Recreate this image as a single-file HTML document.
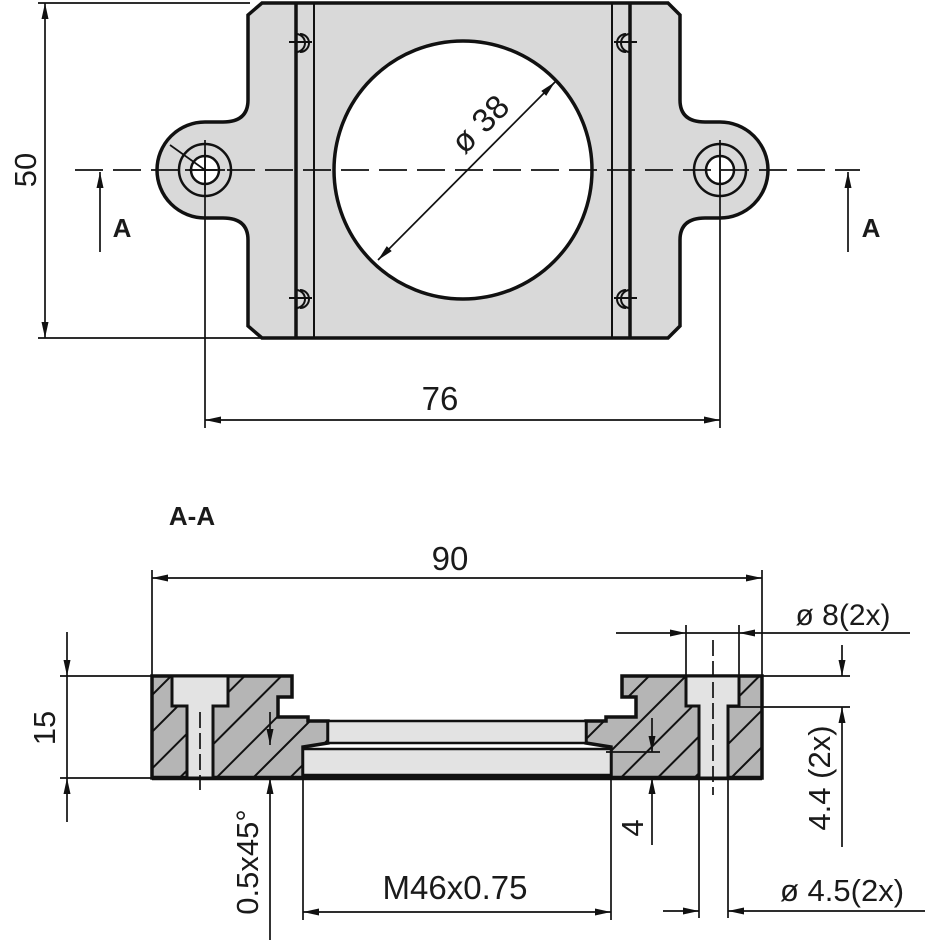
<!DOCTYPE html>
<html><head><meta charset="utf-8"><style>
html,body{margin:0;padding:0;background:#fff}
svg{display:block}
text{font-family:"Liberation Sans",sans-serif;fill:#1a1a1a}
</style></head><body>
<svg width="925" height="940" viewBox="0 0 925 940" xmlns="http://www.w3.org/2000/svg">
<defs>
<marker id="ar" viewBox="0 0 16 7" refX="16" refY="3.5" markerWidth="16" markerHeight="7" orient="auto-start-reverse" markerUnits="userSpaceOnUse">
<path d="M0,0 L16,3.5 L0,7 z" fill="#111"/></marker>
<pattern id="hat" width="26" height="26" patternUnits="userSpaceOnUse" patternTransform="rotate(45)">
<rect width="26" height="26" fill="#b5b5b5"/><line x1="0" y1="0" x2="0" y2="26" stroke="#111" stroke-width="4"/></pattern>
</defs>

<!-- TOP VIEW -->
<path d="M262,3 L668,3 L680,15 L680,100 Q680,122 705,122 L720,122 A48,48 0 0 1 720,218 L705,218 Q680,218 680,240 L680,326 L668,338 L262,338 L248,326 L248,240 Q248,218 223,218 L205,218 A48,48 0 0 1 205,122 L223,122 Q248,122 248,100 L248,15 Z" fill="#d9d9d9" stroke="#111" stroke-width="3.5"/>
<g stroke="#111" fill="none">
<line x1="296" y1="3" x2="296" y2="338" stroke-width="3.5"/>
<line x1="314" y1="3" x2="314" y2="338" stroke-width="2"/>
<line x1="612" y1="3" x2="612" y2="338" stroke-width="2"/>
<line x1="630" y1="3" x2="630" y2="338" stroke-width="3.5"/>
</g>
<circle cx="463" cy="170" r="129" fill="#fff" stroke="#111" stroke-width="3.5"/>
<g stroke="#111" stroke-width="2.5" fill="none">
<circle cx="205" cy="170" r="26"/><circle cx="205" cy="170" r="14" fill="#fff"/>
<circle cx="720" cy="170" r="26"/><circle cx="720" cy="170" r="14" fill="#fff"/>
</g>
<g stroke="#111" stroke-width="2" fill="none">
<path d="M296,34 a9,9 0 0 1 0,18 M300,34 a8,8 0 0 1 0,18"/><line x1="289" y1="42" x2="312" y2="42"/>
<path d="M296,290 a9,9 0 0 1 0,18 M300,290 a8,8 0 0 1 0,18"/><line x1="289" y1="298" x2="312" y2="298"/>
<path d="M630,34 a9,9 0 0 0 0,18 M626,34 a8,8 0 0 0 0,18"/><line x1="614" y1="42" x2="637" y2="42"/>
<path d="M630,290 a9,9 0 0 0 0,18 M626,290 a8,8 0 0 0 0,18"/><line x1="614" y1="298" x2="637" y2="298"/>
</g>
<g stroke="#111" stroke-width="1.7" fill="none">
<line x1="75" y1="170" x2="860" y2="170" stroke-dasharray="28,10"/>
<line x1="170" y1="145" x2="205" y2="170"/>
<line x1="378" y1="260" x2="555" y2="82" marker-start="url(#ar)" marker-end="url(#ar)"/>
<line x1="45" y1="3" x2="45" y2="338" marker-start="url(#ar)" marker-end="url(#ar)"/>
<line x1="38" y1="3" x2="250" y2="3"/><line x1="38" y1="338" x2="262" y2="338"/>
<line x1="205" y1="140" x2="205" y2="428"/><line x1="720" y1="140" x2="720" y2="428"/>
<line x1="205" y1="420" x2="720" y2="420" marker-start="url(#ar)" marker-end="url(#ar)"/>
<line x1="100" y1="252" x2="100" y2="172" marker-end="url(#ar)"/>
<line x1="848" y1="252" x2="848" y2="172" marker-end="url(#ar)"/>
<line x1="205" y1="150" x2="205" y2="190"/><line x1="185" y1="170" x2="225" y2="170"/>
<line x1="720" y1="150" x2="720" y2="190"/>
</g>
<text x="36" y="170" font-size="31" text-anchor="middle" transform="rotate(-90 36 170)">50</text>
<text x="122" y="237" font-size="26" font-weight="bold" text-anchor="middle">A</text>
<text x="871" y="237" font-size="26" font-weight="bold" text-anchor="middle">A</text>
<text x="440" y="410" font-size="33" text-anchor="middle">76</text>
<text x="488" y="132" font-size="33" text-anchor="middle" transform="rotate(-45 488 132)">ø 38</text>

<!-- SECTION A-A -->
<text x="192" y="525" font-size="26" font-weight="bold" text-anchor="middle">A-A</text>
<text x="450" y="570" font-size="33" text-anchor="middle">90</text>
<path d="M152,676 L292,676 L292,697 L278,697 L278,717 L308,717 L308,721 L328,721 L328,743 L303,747 L303,778 L152,778 Z" fill="url(#hat)" stroke="#111" stroke-width="3.5"/>
<path d="M762,676 L622,676 L622,697 L636,697 L636,717 L606,717 L606,721 L586,721 L586,743 L611,747 L611,778 L762,778 Z" fill="url(#hat)" stroke="#111" stroke-width="3.5"/>
<rect x="328" y="721" width="258" height="22" fill="#e3e3e3" stroke="#111" stroke-width="2.5"/>
<rect x="303" y="749" width="308" height="26" fill="#e3e3e3" stroke="#111" stroke-width="2.5"/>
<line x1="152" y1="778" x2="762" y2="778" stroke="#111" stroke-width="4.5"/>
<g fill="#e3e3e3" stroke="#111" stroke-width="3">
<path d="M172,676 L228,676 L228,706 L213,706 L213,778 L187,778 L187,706 L172,706 Z"/>
<path d="M686,676 L739,676 L739,706 L728,706 L728,778 L699,778 L699,706 L686,706 Z"/>
</g>
<g stroke="#111" stroke-width="1.7" fill="none">
<line x1="200" y1="712" x2="200" y2="790" stroke-dasharray="16,5"/>
<line x1="713" y1="640" x2="713" y2="795" stroke-dasharray="16,5"/>
<line x1="152" y1="570" x2="152" y2="676"/><line x1="762" y1="570" x2="762" y2="676"/>
<line x1="152" y1="578" x2="762" y2="578" marker-start="url(#ar)" marker-end="url(#ar)"/>
<line x1="60" y1="676" x2="152" y2="676"/><line x1="60" y1="778" x2="152" y2="778"/>
<line x1="67" y1="632" x2="67" y2="676" marker-end="url(#ar)"/>
<line x1="67" y1="676" x2="67" y2="778"/>
<line x1="67" y1="822" x2="67" y2="778" marker-end="url(#ar)"/>
<line x1="616" y1="633" x2="686" y2="633" marker-end="url(#ar)"/>
<line x1="686" y1="633" x2="739" y2="633"/>
<line x1="910" y1="633" x2="739" y2="633" marker-end="url(#ar)"/>
<line x1="686" y1="625" x2="686" y2="676"/><line x1="739" y1="625" x2="739" y2="676"/>
<line x1="762" y1="676" x2="850" y2="676"/><line x1="728" y1="707" x2="850" y2="707"/>
<line x1="842" y1="645" x2="842" y2="676" marker-end="url(#ar)"/>
<line x1="842" y1="847" x2="842" y2="707" marker-end="url(#ar)"/>
<line x1="606" y1="752" x2="660" y2="752"/>
<line x1="652" y1="718" x2="652" y2="752" marker-end="url(#ar)"/>
<line x1="652" y1="845" x2="652" y2="778" marker-end="url(#ar)"/>
<line x1="270" y1="712" x2="270" y2="745" marker-end="url(#ar)"/>
<line x1="270" y1="940" x2="270" y2="778" marker-end="url(#ar)"/>
<line x1="303" y1="750" x2="303" y2="920"/><line x1="611" y1="750" x2="611" y2="920"/>
<line x1="303" y1="912" x2="611" y2="912" marker-start="url(#ar)" marker-end="url(#ar)"/>
<line x1="699" y1="778" x2="699" y2="918"/><line x1="728" y1="778" x2="728" y2="918"/>
<line x1="663" y1="911" x2="699" y2="911" marker-end="url(#ar)"/>
<line x1="925" y1="911" x2="728" y2="911" marker-end="url(#ar)"/>
</g>
<text x="45" y="728" font-size="31" text-anchor="middle" transform="rotate(-90 45 728)" dy="10">15</text>
<text x="843" y="625" font-size="30" text-anchor="middle">ø 8(2x)</text>
<text x="820" y="778" font-size="31" text-anchor="middle" transform="rotate(-90 820 778)" dy="10">4.4 (2x)</text>
<text x="633" y="828" font-size="31" text-anchor="middle" transform="rotate(-90 633 828)" dy="10">4</text>
<text x="248" y="862" font-size="31" text-anchor="middle" transform="rotate(-90 248 862)" dy="10">0.5x45°</text>
<text x="455" y="899" font-size="33" text-anchor="middle">M46x0.75</text>
<text x="842" y="901" font-size="31" text-anchor="middle">ø 4.5(2x)</text>
</svg>
</body></html>
